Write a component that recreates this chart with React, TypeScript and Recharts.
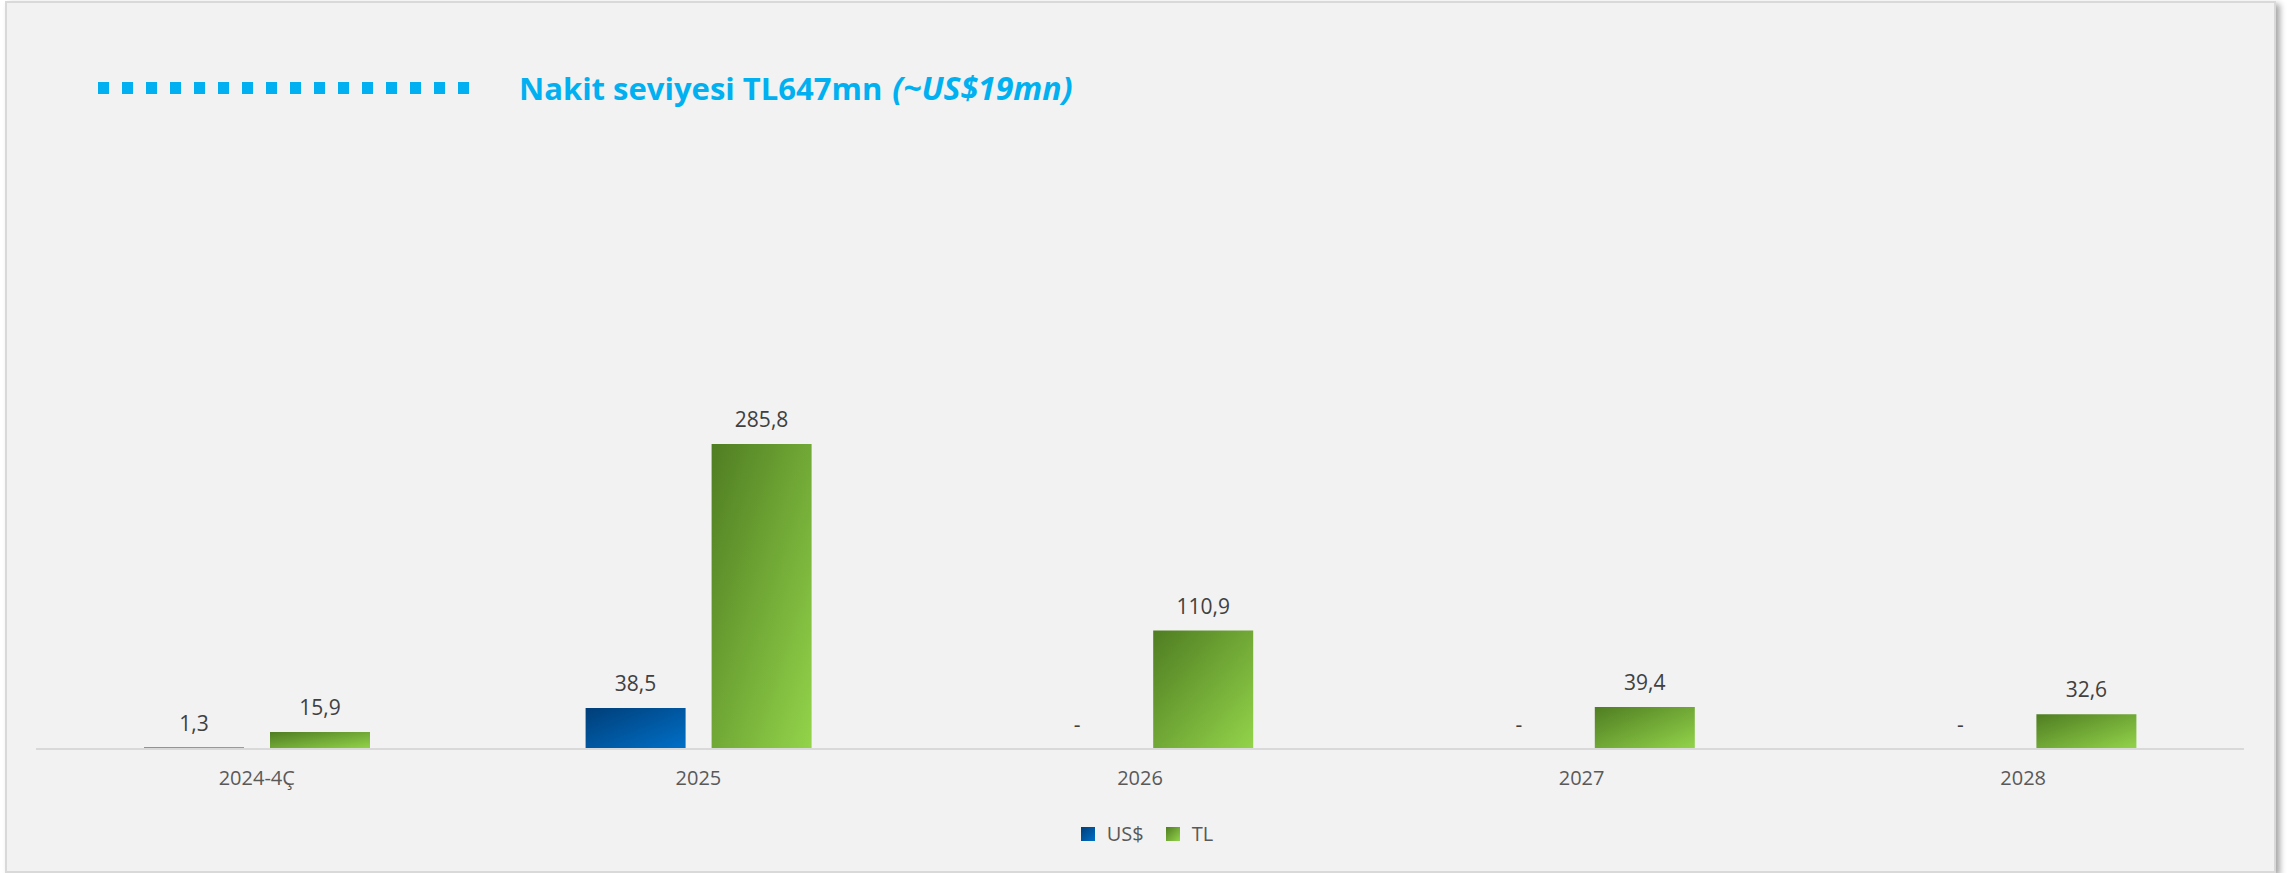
import {Bar, BarChart, LabelList, Legend, XAxis, YAxis} from "recharts";

const categories = ['2024-4Ç', '2025', '2026', '2027', '2028'];
const usdValues = [1.3, 38.5, 0, 0, 0];
const tlValues = [15.9, 285.8, 110.9, 39.4, 32.6];

const titleMain = 'Nakit seviyesi TL647mn';
const titleNote = '(~US$19mn)';

const FONT = '"Open Sans", "Noto Sans", sans-serif';

const chartData = categories.map((name, i) => ({
    name: name,
    usd: usdValues[i],
    tl: tlValues[i],
}));

const formatValue = (v: any) => {
    if (v === 0 || v === null || v === undefined) {
        return '-';
    }
    return Number(v).toFixed(1).replace('.', ',');
};

// zero values still need a (invisible) rect so the "-" label gets drawn
const tinyForZero = (v: any) => (v === 0 ? 0.01 : 0);

const legendItems = [
    {label: 'US$', bg: 'linear-gradient(135deg, #003e78 0%, #0070c8 100%)'},
    {label: 'TL', bg: 'linear-gradient(135deg, #4f7d22 0%, #93d44a 100%)'},
];

const LegendContent = () => {
    return (
        <div style={{display: 'flex', justifyContent: 'center', alignItems: 'center', fontFamily: FONT, paddingLeft: 4}}>
            {legendItems.map((item, i) => (
                <div key={item.label} style={{display: 'flex', alignItems: 'center', marginLeft: i === 0 ? 0 : 22}}>
                    <div style={{width: 14, height: 14, background: item.bg, marginRight: 12}}/>
                    <span style={{fontSize: 20, color: '#595959'}}>{item.label}</span>
                </div>
            ))}
        </div>
    );
};

export default function App() {
    return (
        <div style={{position: 'absolute', left: 0, top: 0, width: 2290, height: 873, background: '#ffffff', overflow: 'hidden'}}>
            <div style={{
                position: 'absolute', left: 5, top: 1, width: 2267, height: 868,
                background: '#f2f2f2', border: '2px solid #d9d9d9',
                boxShadow: '4px 3px 6px rgba(0,0,0,0.35)'
            }}/>

            <svg width={2290} height={140} style={{position: 'absolute', left: 0, top: 0}}>
                <line x1={98} y1={88} x2={470} y2={88} stroke="#00b0f0" strokeWidth={12} strokeDasharray="11 13"/>
                <text x={519} y={100} fill="#00b0f0" fontFamily={FONT} fontSize={31} fontWeight={700}>
                    {titleMain}
                    <tspan dx={10} fontStyle="italic" fontSize={32}>{titleNote}</tspan>
                </text>
            </svg>

            <div style={{position: 'absolute', left: 0, top: 0}}>
                <BarChart
                    width={2290}
                    height={873}
                    data={chartData}
                    barGap={26}
                    margin={{top: 322, right: 46, left: 36, bottom: 94}}
                >
                    <defs>
                        <linearGradient id="gradUsd" x1="0" y1="0" x2="1" y2="1">
                            <stop offset="0%" stopColor="#003e78"/>
                            <stop offset="100%" stopColor="#0070c8"/>
                        </linearGradient>
                        <linearGradient id="gradTl" x1="0" y1="0" x2="1" y2="1">
                            <stop offset="0%" stopColor="#4f7d22"/>
                            <stop offset="100%" stopColor="#93d44a"/>
                        </linearGradient>
                    </defs>
                    <XAxis
                        dataKey="name"
                        height={30}
                        tickLine={false}
                        tickMargin={16}
                        axisLine={{stroke: '#d9d9d9', strokeWidth: 2}}
                        tick={{fill: '#595959', fontSize: 20, fontFamily: FONT}}
                    />
                    <YAxis hide domain={[0, 400]}/>
                    <Legend
                        verticalAlign="middle"
                        align="center"
                        content={<LegendContent/>}
                        wrapperStyle={{top: 820, left: 0, width: 2290}}
                    />
                    <Bar dataKey="usd" name="US$" fill="url(#gradUsd)" barSize={100}
                         minPointSize={tinyForZero} isAnimationActive={false}>
                        <LabelList dataKey="usd" position="top" offset={17} formatter={formatValue}
                                   style={{fill: '#404040', fontSize: 21, fontFamily: FONT}}/>
                    </Bar>
                    <Bar dataKey="tl" name="TL" fill="url(#gradTl)" barSize={100} isAnimationActive={false}>
                        <LabelList dataKey="tl" position="top" offset={17} formatter={formatValue}
                                   style={{fill: '#404040', fontSize: 21, fontFamily: FONT}}/>
                    </Bar>
                </BarChart>
            </div>
        </div>
    );
}
